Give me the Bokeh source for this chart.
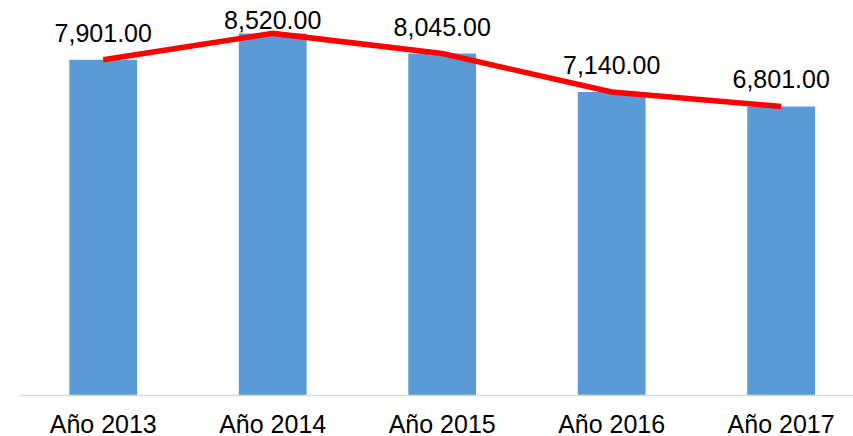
import numpy as np
from bokeh.plotting import figure
from bokeh.models import ColumnDataSource, FixedTicker, Range1d
from bokeh.core.properties import value
from bokeh.embed import file_html
from bokeh.resources import INLINE

categories = ["Año 2013", "Año 2014", "Año 2015", "Año 2016", "Año 2017"]
values = [7901, 8520, 8045, 7140, 6801]
labels = ["7,901.00", "8,520.00", "8,045.00", "7,140.00", "6,801.00"]

W, H = 853, 436
LEFT = 18
scale = 0.0425            # px per unit
axis_px = 395             # y pixel of the value axis baseline
ymax = axis_px / scale
ymin = -(H - axis_px) / scale

xs = np.arange(len(categories))
vals = np.array(values, dtype=float)
# Excel-like label placement: above bar, clamped to stay inside chart area
label_y = np.minimum(vals + 27 / scale, ymax - 19 / scale)

src = ColumnDataSource(dict(x=xs, top=vals, ly=label_y, lab=labels))

p = figure(width=W, height=H, output_backend="svg", toolbar_location=None,
           x_range=Range1d(-0.5, 4.427), y_range=Range1d(ymin, ymax),
           min_border_left=LEFT, min_border_right=0, min_border_top=0,
           min_border_bottom=0)
p.outline_line_color = None
p.grid.visible = False
p.yaxis.visible = False

p.vbar(x="x", top="top", width=0.4, bottom=0, source=src,
       fill_color="#5B9BD5", line_color=None)
p.line(x="x", y="top", source=src, line_color="#FF0000", line_width=5.5,
       line_join="miter")
p.text(x="x", y="ly", text="lab", source=src, text_align="center",
       text_baseline="alphabetic", text_font=value("Liberation Sans"),
       text_font_size="25px", text_color="#000000")

ax = p.xaxis[0]
ax.fixed_location = 0
ax.ticker = FixedTicker(ticks=list(xs))
ax.major_label_overrides = {int(i): c for i, c in zip(xs, categories)}
ax.axis_line_color = "#D9D9D9"
ax.axis_line_width = 1.5
ax.major_tick_line_color = None
ax.minor_tick_line_color = None
ax.major_tick_out = 0
ax.major_tick_in = 0
ax.major_label_standoff = 14
ax.major_label_text_font = "Liberation Sans"
ax.major_label_text_font_size = "25px"
ax.major_label_text_color = "#000000"

p.background_fill_color = "white"
p.border_fill_color = "white"

open("out.html", "w").write(file_html(p, INLINE))
